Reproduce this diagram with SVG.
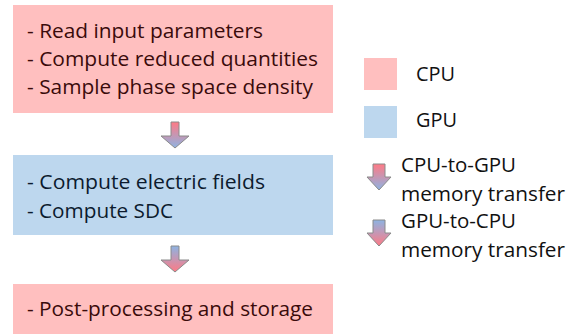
<svg xmlns="http://www.w3.org/2000/svg" width="573" height="334" viewBox="0 0 573 334">
<style>
.cpu{fill:#ffbfbf}
.gpu{fill:#bdd7ee}
.t{font-family:"Open Sans","Liberation Sans",sans-serif;font-size:20px}
.tc{fill:#3a0b0b}
.tg{fill:#0c1b2e}
.lg{font-family:"Open Sans","Liberation Sans",sans-serif;font-size:20px;fill:#111}
.arr{stroke:#8a8a8a;stroke-width:1}
</style>
<defs>
<linearGradient id="c2g" x1="0" y1="0" x2="0" y2="1">
<stop offset="0" stop-color="#ff7a85"/>
<stop offset="1" stop-color="#8db3e2"/>
</linearGradient>
<linearGradient id="g2c" x1="0" y1="0" x2="0" y2="1">
<stop offset="0" stop-color="#8db3e2"/>
<stop offset="1" stop-color="#ff7a85"/>
</linearGradient>
<path id="arrow" d="M-4,0 H4 V14 H14 L0,26 L-14,14 H-4 Z"/>
<path id="larrow" d="M-6,0 H6 V13 H12 L0,26 L-12,13 H-6 Z"/>
</defs>
<g id="box-cpu1">
<rect class="cpu" x="13" y="5" width="320" height="108"/>
<text class="t tc" x="27" y="38" textLength="236" lengthAdjust="spacingAndGlyphs">- Read input parameters</text>
<text class="t tc" x="27" y="66" textLength="291" lengthAdjust="spacingAndGlyphs">- Compute reduced quantities</text>
<text class="t tc" x="27" y="94" textLength="286" lengthAdjust="spacingAndGlyphs">- Sample phase space density</text>
</g>
<g id="box-gpu">
<rect class="gpu" x="13" y="155" width="320" height="80"/>
<text class="t tg" x="27" y="189" textLength="238" lengthAdjust="spacingAndGlyphs">- Compute electric fields</text>
<text class="t tg" x="27" y="218" textLength="146" lengthAdjust="spacingAndGlyphs">- Compute SDC</text>
</g>
<g id="box-cpu2">
<rect class="cpu" x="13" y="284" width="320" height="50"/>
<text class="t tc" x="27" y="316" textLength="286" lengthAdjust="spacingAndGlyphs">- Post-processing and storage</text>
</g>
<g id="legend">
<rect class="cpu" x="364" y="58" width="33" height="32"/>
<text class="lg" x="416" y="81" textLength="39" lengthAdjust="spacingAndGlyphs">CPU</text>
<rect class="gpu" x="364" y="106" width="33" height="32"/>
<text class="lg" x="416" y="127" textLength="41" lengthAdjust="spacingAndGlyphs">GPU</text>
<use href="#larrow" class="arr" fill="url(#c2g)" transform="translate(379,164)"/>
<text class="lg" x="401" y="172" textLength="115" lengthAdjust="spacingAndGlyphs">CPU-to-GPU</text>
<text class="lg" x="401" y="201" textLength="164" lengthAdjust="spacingAndGlyphs">memory transfer</text>
<use href="#larrow" class="arr" fill="url(#g2c)" transform="translate(379,220)"/>
<text class="lg" x="401" y="228" textLength="115" lengthAdjust="spacingAndGlyphs">GPU-to-CPU</text>
<text class="lg" x="401" y="257" textLength="164" lengthAdjust="spacingAndGlyphs">memory transfer</text>
</g>
<g id="connectors">
<use href="#arrow" class="arr" fill="url(#c2g)" transform="translate(175,122)"/>
<use href="#arrow" class="arr" fill="url(#g2c)" transform="translate(175,246)"/>
</g>
</svg>
